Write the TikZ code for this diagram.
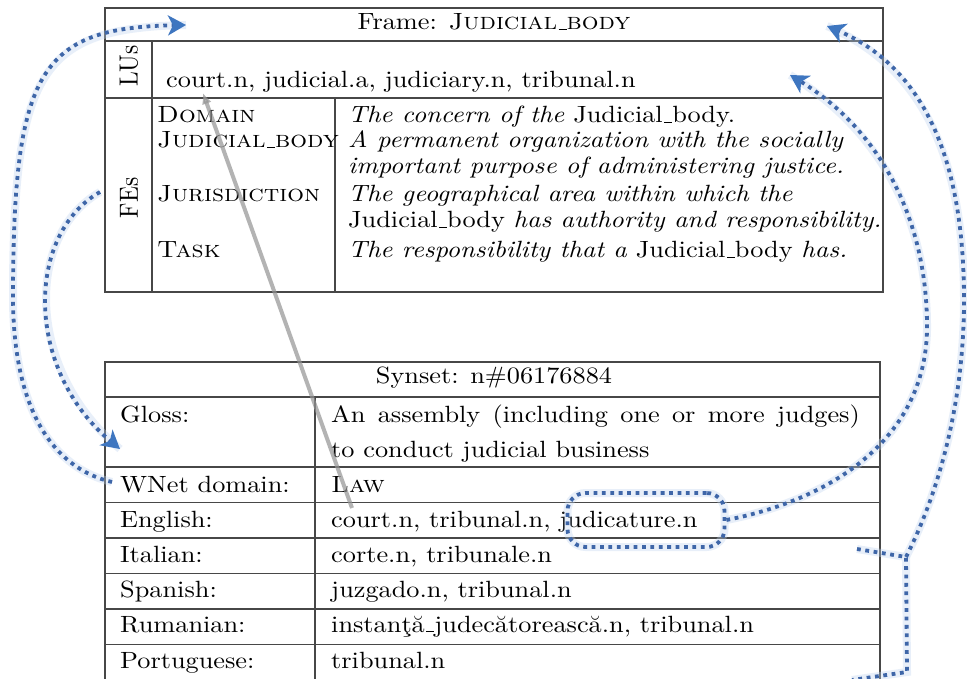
\documentclass[tikz,border=0pt]{standalone}
\usepackage{graphicx}
\usetikzlibrary{arrows.meta}

% text is set at 10pt and enlarged to the picture's pixel grid
\newcommand{\tx}[1]{\scalebox{2.63}[2.35]{#1}}
\newcommand{\txv}[1]{\scalebox{2.35}[2.63]{#1}}
% short underscore, as in the classic text fonts
\newcommand{\us}{\leavevmode\kern.06em\vbox{\hrule width.3em}}

\definecolor{dotblue}{RGB}{62,102,168}
\definecolor{tipblue}{RGB}{62,118,192}
\definecolor{haloblue}{RGB}{190,212,240}

\tikzset{
  x=1pt, y=-1pt,
  rule/.style={line width=1.1pt, draw=black!72},
  cell/.style={anchor=base west, inner sep=0pt},
  centred/.style={anchor=base, inner sep=0pt},
  sideways/.style={rotate=90, inner sep=0pt},
  bluedots/.style={line width=3.8pt, draw=dotblue, dash pattern=on 3.8pt off 4.6pt,
    preaction={-, draw=haloblue, line width=8pt, opacity=0.35, solid}},
  bluelink/.style={bluedots, -{Stealth[length=18pt,width=20pt,inset=5pt,fill=tipblue,color=tipblue]}},
  ring/.style={bluedots, rounded corners=18pt, minimum width=157pt, minimum height=54pt, inner sep=0pt},
  greylink/.style={line width=4pt, draw=black!42, opacity=0.7,
    -{Latex[length=11pt,width=10pt]}}
}

\begin{document}
\begin{tikzpicture}
\clip (0,0) rectangle (967,679);
\fill[white] (0,0) rectangle (967,679);

% ---------------- frame table ----------------
\draw[rule] (105,8) rectangle (883,292);
\draw[rule] (105,41) -- (883,41);
\draw[rule] (105,98) -- (883,98);
\draw[rule] (152,41) -- (152,292);
\draw[rule] (335,98) -- (335,292);

\node[centred] (frame) at (494,30) {\tx{Frame: \textsc{Judicial\us body}}};
\node[sideways] (lus) at (129,66) {\txv{LUs}};
\node[sideways] (fes) at (129,198) {\txv{FEs}};
\node[cell] (lu) at (166,88) {\tx{court.n, judicial.a, judiciary.n, tribunal.n}};

\node[cell] (fe1) at (157,123) {\tx{\textsc{Domain}}};
\node[cell] (de1) at (348,123) {\tx{\textit{The concern of the} Judicial\us body.}};
\node[cell] (fe2) at (157,148) {\tx{\textsc{Judicial\us body}}};
\node[cell] (de2a) at (348,148) {\tx{\textit{A permanent organization with the socially}}};
\node[cell] (de2b) at (348,174) {\tx{\textit{important purpose of administering justice.}}};
\node[cell] (fe3) at (157,202) {\tx{\textsc{Jurisdiction}}};
\node[cell] (de3a) at (348,202) {\tx{\textit{The geographical area within which the}}};
\node[cell] (de3b) at (348,228) {\tx{Judicial\us body \textit{has authority and responsibility.}}};
\node[cell] (fe4) at (157,258) {\tx{\textsc{Task}}};
\node[cell] (de4) at (348,258) {\tx{\textit{The responsibility that a} Judicial\us body \textit{has.}}};

% ---------------- synset table ----------------
\draw[rule] (105,690) -- (105,362) -- (880,362) -- (880,690);
\foreach \yy in {397,467,502.5,538,573.5,609,644.5}
  \draw[rule] (105,\yy) -- (880,\yy);
\draw[rule] (315,397) -- (315,690);

\node[centred] (syn) at (494,383) {\tx{Synset: n\#06176884}};
\node[cell] (l1) at (120,422) {\tx{Gloss:}};
\node[cell] (v1a) at (331,422) {\tx{\makebox[201pt][s]{An assembly (including one or more judges)}}};
\node[cell] (v1b) at (331,457) {\tx{to conduct judicial business}};
\node[cell] (l2) at (120,492) {\tx{WNet domain:}};
\node[cell] (v2) at (331,492) {\tx{\textsc{Law}}};
\node[cell] (l3) at (120,527) {\tx{English:}};
\node[cell] (v3) at (331,527) {\tx{court.n, tribunal.n, judicature.n}};
\node[cell] (l4) at (120,562) {\tx{Italian:}};
\node[cell] (v4) at (331,562) {\tx{corte.n, tribunale.n}};
\node[cell] (l5) at (120,597) {\tx{Spanish:}};
\node[cell] (v5) at (331,597) {\tx{juzgado.n, tribunal.n}};
\node[cell] (l6) at (120,632) {\tx{Rumanian:}};
\node[cell] (v6) at (331,632) {\tx{instanţă\us judecătorească.n, tribunal.n}};
\node[cell] (l7) at (120,668) {\tx{Portuguese:}};
\node[cell] (v7) at (331,668) {\tx{tribunal.n}};

% ---------------- link ends ----------------
\coordinate (encourt) at (352,508);
\coordinate (lucourt) at (203,93);
\coordinate (wnetend) at (112,482);
\coordinate (frametip) at (186,25);
\coordinate (feend) at (100,192);
\coordinate (glosstip) at (120,449);
\coordinate (lutip) at (790,75);
\coordinate (frametipR) at (827,26);
\coordinate (brtop) at (857,549);
\coordinate (brjoin) at (906,557);
\coordinate (brlow) at (907,672);
\coordinate (brbot) at (852,680);

% grey link between the English and frame lexical units
\draw[greylink] (encourt) -- (lucourt);

% ring around judicature.n
\node[ring] (jud) at (646,520) {};

% dotted blue links
\draw[bluelink] (wnetend) .. controls (60,470) and (14,420) .. (13,300)
  .. controls (13,70) and (40,28) .. (frametip);
\draw[bluelink] (feend) .. controls (25,235) and (25,370) .. (glosstip);
\draw[bluelink] (jud.east) .. controls (830,500) and (925,440) .. (927,330)
  .. controls (928,220) and (880,130) .. (lutip);
\draw[bluedots] (brtop) -- (brjoin) -- (brlow) -- (brbot);
\draw[bluelink] (brjoin) .. controls (930,510) and (964,420) .. (964,300)
  .. controls (964,170) and (930,70) .. (frametipR);
\end{tikzpicture}
\end{document}
